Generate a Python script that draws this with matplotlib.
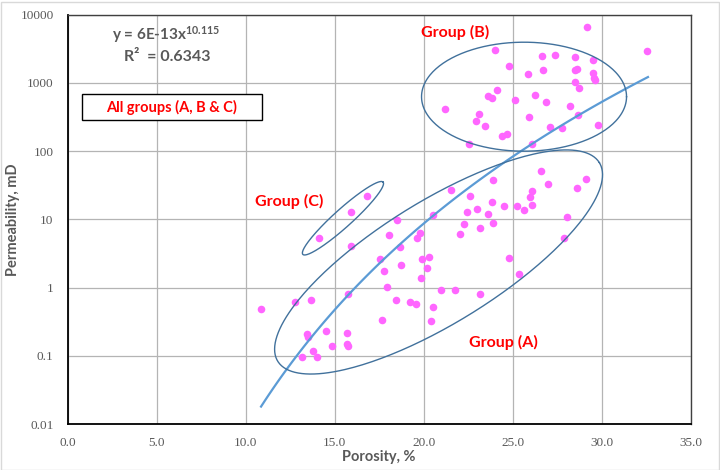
import matplotlib
matplotlib.use("Agg")
import matplotlib.pyplot as plt
import numpy as np
from matplotlib.patches import Rectangle

plt.rcParams['mathtext.fontset'] = 'custom'
plt.rcParams['mathtext.rm'] = 'Lato:bold'
plt.rcParams['mathtext.it'] = 'Lato:bold'
plt.rcParams['mathtext.bf'] = 'Lato:bold'

# данные: пористость (%) и проницаемость (mD)
porosity = [16.80, 15.92, 14.12, 15.92, 18.49, 18.06, 18.67, 17.55, 17.78, 17.97,
            10.87, 12.79, 13.66, 15.77, 18.43, 17.65, 13.43, 13.51, 14.52, 15.71,
            15.71, 15.74, 14.85, 13.79, 13.19, 14.00, 26.61, 27.00, 23.90, 21.52,
            22.62, 23.84, 24.51, 25.26, 25.65, 26.07, 25.96, 26.10, 22.42, 23.00,
            23.60, 23.91, 22.28, 23.17, 22.04, 20.51, 19.80, 19.64, 19.93, 20.29,
            18.71, 20.21, 19.85, 20.98, 21.76, 24.81, 25.36, 23.17, 19.23, 19.57,
            20.51, 20.41, 28.60, 29.12, 28.04, 27.88,
            24.03, 24.81, 25.86, 26.68, 26.67, 27.40, 24.10, 23.63, 23.82, 25.11,
            26.26, 26.89, 21.20, 23.13, 22.96, 23.46, 25.90, 27.07, 24.39, 24.67,
            22.55, 26.10, 29.19, 32.55, 28.52, 29.53, 28.48, 28.60, 29.50, 29.59,
            29.62, 28.50, 28.73, 28.24, 28.69, 29.78, 27.79]
permeability = [22.2, 12.8, 5.4, 4.1, 9.7, 5.97, 4.0, 2.6, 1.74, 1.02,
                0.48, 0.61, 0.66, 0.81, 0.66, 0.34, 0.21, 0.188, 0.235, 0.217,
                0.150, 0.139, 0.139, 0.120, 0.098, 0.098, 50.6, 33.0, 38.1, 26.9,
                21.8, 17.8, 15.7, 15.7, 13.6, 16.4, 21.5, 26.3, 12.7, 14.1,
                11.9, 8.95, 8.48, 7.56, 6.05, 11.7, 6.39, 5.40, 2.66, 2.84,
                2.15, 1.94, 1.41, 0.94, 0.925, 2.75, 1.59, 0.80, 0.61, 0.57,
                0.53, 0.325, 28.5, 39.0, 10.7, 5.3,
                2990, 1762, 1359, 1524, 2494, 2553, 785, 641, 599, 560,
                656, 524, 409, 353, 279, 235, 319, 222, 166, 180,
                128, 127, 6560, 2892, 2387, 2135, 1524, 1608, 1391, 1188,
                1110, 1017, 848, 462, 335, 241, 220]

# линия тренда y = 6E-13 * x^10.115
coef_a = 6e-13
coef_b = 10.115
trend_x = np.linspace(10.87, 32.6, 100)

x_ticks = [0, 5, 10, 15, 20, 25, 30, 35]
x_labels = ["0.0", "5.0", "10.0", "15.0", "20.0", "25.0", "30.0", "35.0"]
y_ticks = [0.01, 0.1, 1, 10, 100, 1000, 10000]
y_labels = ["0.01", "0.1", "1", "10", "100", "1000", "10000"]

# эллипсы групп: центр (пористость, проницаемость), полуоси в пикселях, угол
groups = {
    "A": dict(center=(20.84, 2.38), a=189, b=61, angle=31.7),
    "B": dict(center=(25.64, 626), a=102.5, b=54.5, angle=0),
    "C": dict(center=(15.47, 10.4), a=54, b=9, angle=42),
}

gray = "#595959"
fig = plt.figure(figsize=(7.2, 4.7), dpi=100)
ax = fig.add_axes([67.5 / 720, 1 - 424.3 / 470, 623.2 / 720, 409.8 / 470])

ax.set_yscale("log")
ax.set_xlim(0, 35)
ax.set_ylim(0.01, 10000)
ax.set_xticks(x_ticks)
ax.set_xticklabels(x_labels)
ax.set_yticks(y_ticks)
ax.set_yticklabels(y_labels)
ax.minorticks_off()
ax.tick_params(length=0, colors=gray, labelsize=9.5)
ax.tick_params(axis="x", pad=9)
ax.tick_params(axis="y", pad=10)
for lab in ax.get_xticklabels() + ax.get_yticklabels():
    lab.set_family("Liberation Serif")
ax.grid(True, color="#B4B4B4", linewidth=0.9)
ax.set_axisbelow(True)
for side in ["top", "right"]:
    ax.spines[side].set_color("#404040")
    ax.spines[side].set_linewidth(1.0)
for side in ["left", "bottom"]:
    ax.spines[side].set_color("black")
    ax.spines[side].set_linewidth(1.3)

ax.scatter(porosity, permeability, s=30, color="#FF66FF", zorder=3, linewidths=0)
ax.plot(trend_x, coef_a * trend_x ** coef_b, color="#5B9BD5", linewidth=1.6, zorder=4)

# рисуем эллипсы в пикселях и переводим обратно в данные
t = np.linspace(0, 2 * np.pi, 300)
for g in groups.values():
    cx, cy = ax.transData.transform(g["center"])
    th = np.radians(g["angle"])
    ex = g["a"] * np.cos(t)
    ey = g["b"] * np.sin(t)
    px = cx + ex * np.cos(th) - ey * np.sin(th)
    py = cy + ex * np.sin(th) + ey * np.cos(th)
    pts = ax.transData.inverted().transform(np.column_stack([px, py]))
    ax.plot(pts[:, 0], pts[:, 1], color="#41719C", linewidth=1.0, zorder=5)

bold = dict(family="Lato", weight="bold")
ax.text(0.158, 0.950, "y = 6E-13x$^{10.115}$", transform=ax.transAxes,
        ha="center", va="center", color=gray, fontsize=11, **bold)
ax.text(0.160, 0.896, "R²  = 0.6343", transform=ax.transAxes,
        ha="center", va="center", color=gray, fontsize=11.5, **bold)

ax.add_patch(Rectangle((0.0233, 0.7426), 0.2887, 0.0634, transform=ax.transAxes,
                       facecolor="white", edgecolor="black", linewidth=1.0, zorder=6))
ax.text(0.1677, 0.7743, "All groups (A, B & C)", transform=ax.transAxes,
        ha="center", va="center", color="red", fontsize=10.5, zorder=7, **bold)

ax.text(0.6218, 0.9573, "Group (B)", transform=ax.transAxes, ha="center", va="center",
        color="red", fontsize=11.5, **bold)
ax.text(0.3562, 0.5449, "Group (C)", transform=ax.transAxes, ha="center", va="center",
        color="red", fontsize=11.5, **bold)
ax.text(0.6988, 0.2008, "Group (A)", transform=ax.transAxes, ha="center", va="center",
        color="red", fontsize=11.5, **bold)

fig.text(379 / 720, 1 - 457 / 470, "Porosity, %", ha="center", va="center",
         color=gray, fontsize=10.5, **bold)
fig.text(13 / 720, 1 - 219.6 / 470, "Permeability, mD", ha="center", va="center",
         rotation=90, color=gray, fontsize=10.5, **bold)

fig.patches.append(Rectangle((0.5 / 720, 0.5 / 470), 718 / 720, 468 / 470,
                             transform=fig.transFigure, fill=False,
                             edgecolor="#D9D9D9", linewidth=1.0))

fig.savefig("out.png", dpi=100)
